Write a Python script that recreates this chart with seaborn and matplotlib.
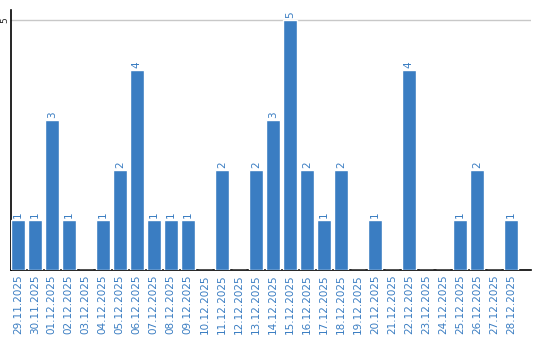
import matplotlib
matplotlib.use("Agg")
import matplotlib.pyplot as plt
import seaborn as sns
import pandas as pd

dates = ["29.11.2025", "30.11.2025", "01.12.2025", "02.12.2025", "03.12.2025",
         "04.12.2025", "05.12.2025", "06.12.2025", "07.12.2025", "08.12.2025",
         "09.12.2025", "10.12.2025", "11.12.2025", "12.12.2025", "13.12.2025",
         "14.12.2025", "15.12.2025", "16.12.2025", "17.12.2025", "18.12.2025",
         "19.12.2025", "20.12.2025", "21.12.2025", "22.12.2025", "23.12.2025",
         "24.12.2025", "25.12.2025", "26.12.2025", "27.12.2025", "28.12.2025"]
values = [1, 1, 3, 1, 0, 1, 2, 4, 1, 1,
          1, 0, 2, 0, 2, 3, 5, 2, 1, 2,
          0, 1, 0, 4, 0, 0, 1, 2, 0, 1]
y_ticks = [5]

sns.set_style("white")
plt.rcParams['font.family'] = ['DejaVu Sans']

color = "#3a7dc2"
df = pd.DataFrame({"date": dates, "value": values})

fig = plt.figure(figsize=(5.4, 3.4), dpi=100)
ax = fig.add_axes([10.5/540, 70/340, 520/540, 260/340])
sns.barplot(data=df, x="date", y="value", color=color, width=0.82,
            saturation=1, ax=ax, zorder=3)

ax.set_xlim(-0.43, 30.15)
ax.set_ylim(0, 5.2)
ax.set_yticks(y_ticks)
ax.set_yticklabels([str(t) for t in y_ticks], rotation=90, va="center",
                   ha="center", fontsize=6.5)
ax.yaxis.grid(True, color="#c8c8c8", linewidth=1, zorder=0)
ax.tick_params(axis="y", length=0, pad=4)
ax.tick_params(axis="x", length=0, pad=3)
ax.set_xticks(range(len(dates)))
ax.set_xticklabels(dates, rotation=90, fontsize=7.5, color=color)
ax.set_xlabel("")
ax.set_ylabel("")

for s in ["top", "right"]:
    ax.spines[s].set_visible(False)
for s in ["left", "bottom"]:
    ax.spines[s].set_visible(True)
    ax.spines[s].set_color("black")
    ax.spines[s].set_linewidth(1.2)

for i, v in enumerate(values):
    if v > 0:
        ax.text(i, v + 0.04, str(v), rotation=90, ha="center", va="bottom",
                fontsize=7.5, color=color)

fig.savefig("out.png", dpi=100)
